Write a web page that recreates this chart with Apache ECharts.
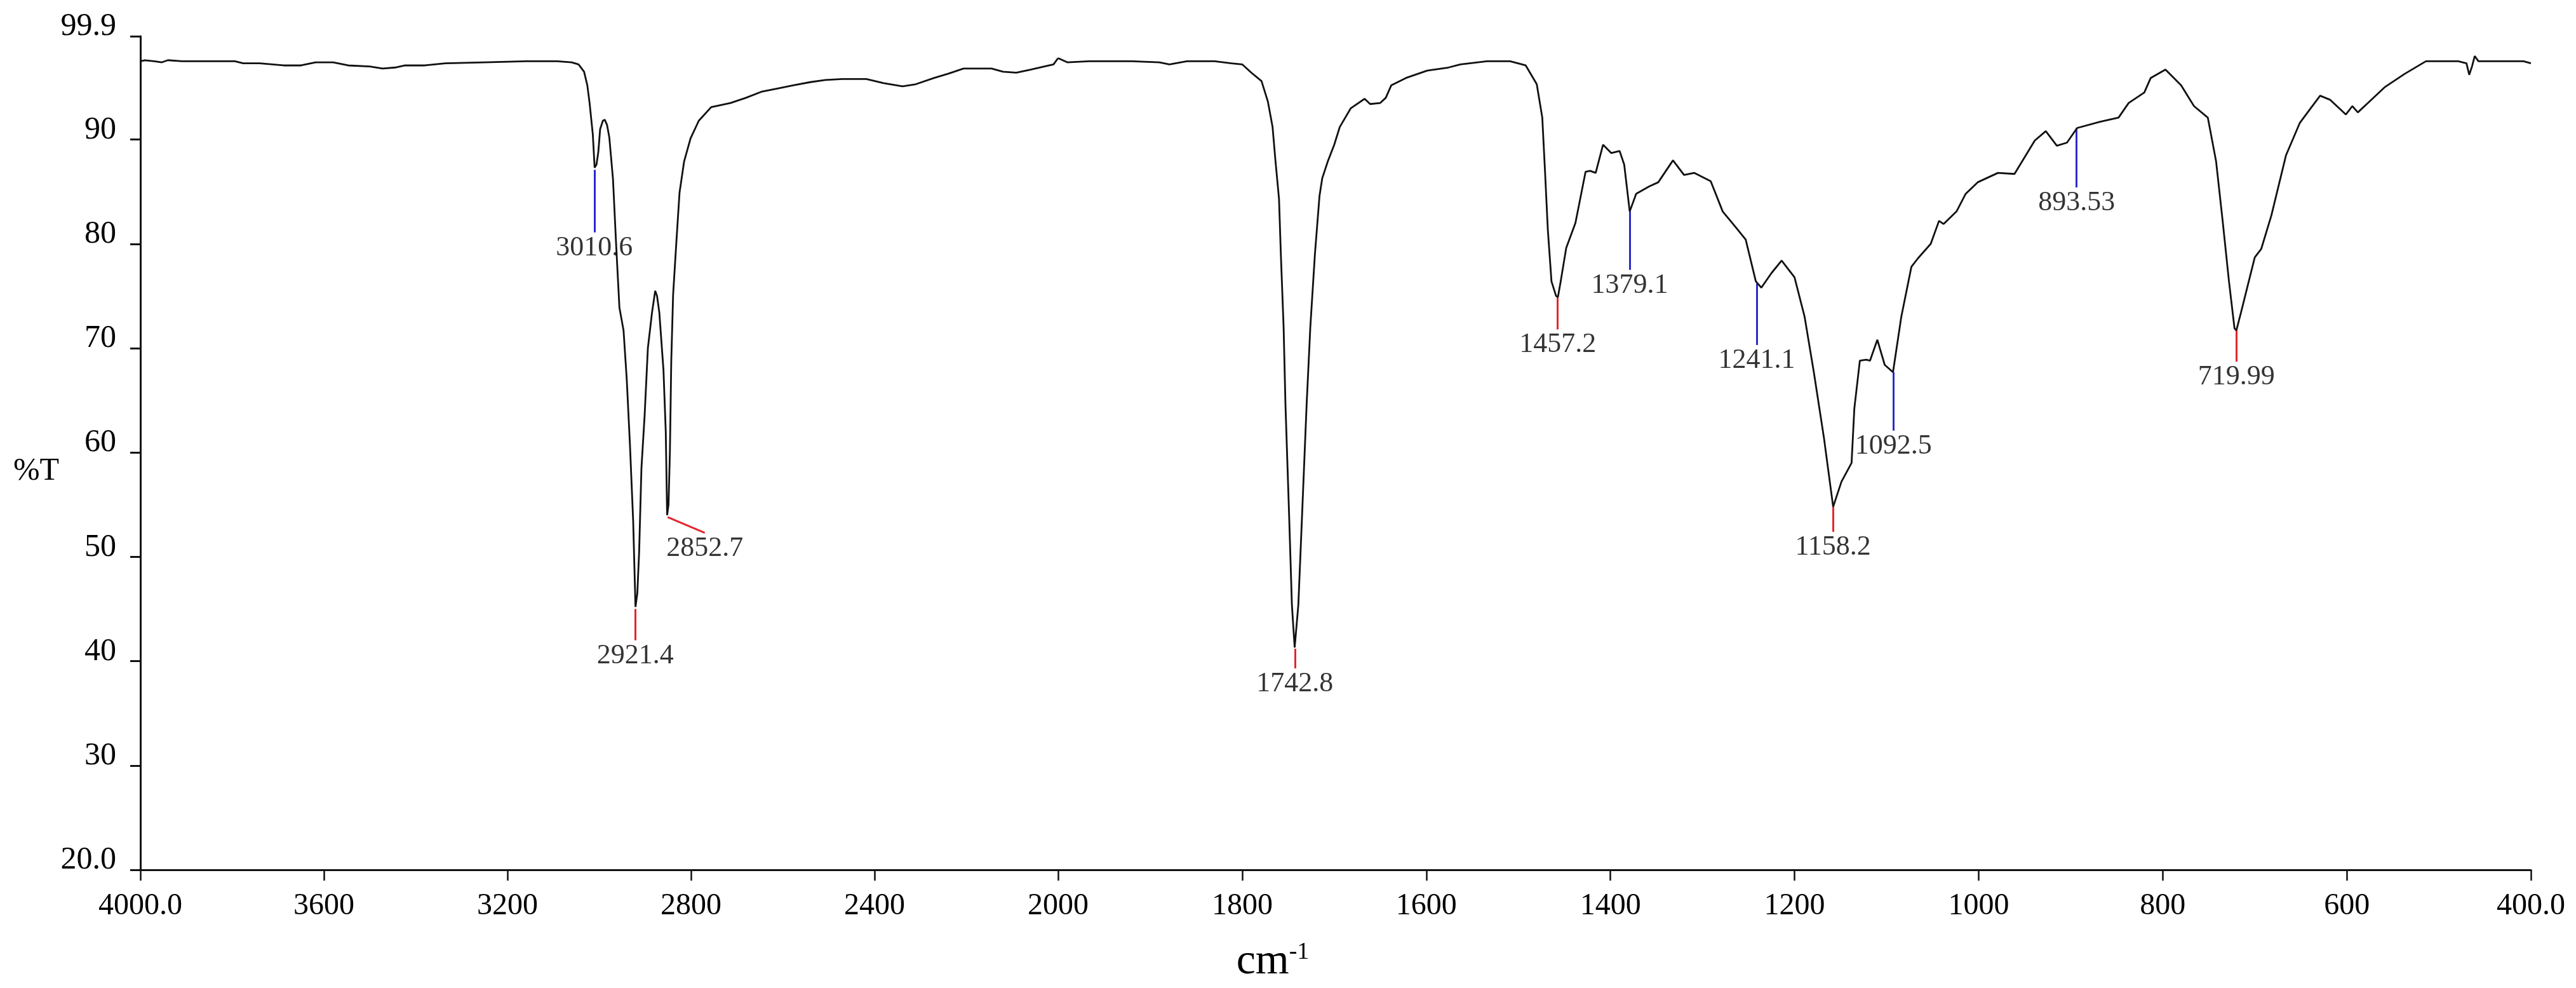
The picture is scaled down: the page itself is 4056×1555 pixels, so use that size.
<!DOCTYPE html>
<html>
<head>
<meta charset="utf-8">
<script src="https://cdn.jsdelivr.net/npm/echarts@6.0.0/dist/echarts.min.js"></script>
<style>
html,body{margin:0;padding:0;background:#ffffff;}
#chart{width:4056px;height:1555px;}
</style>
</head>
<body>
<div id="chart"></div>
<script>
// ---------- data ----------
// 4000 - 2000 cm-1 section
const wavenumbersHigh = [
  4000,3990,3970,3953,3940,3909,3850,3794,3776,3740,3688,3650,3618,3580,3547,3500,3472,3445,3423,3380,
  3335,3250,3159,3092,3060,3045,3033,3026,3021,3014,3010,3006,3002,2998,2992,2988,2983,2978,2970,2963,
  2956,2947,2940,2933,2926,2921,2917,2913,2908,2901,2894,2885,2878,2874,2869,2860,2855,2852,2849,2846,
  2843,2839,2832,2825,2815,2801,2783,2756,2714,2680,2645,2610,2576,2540,2507,2470,2418,2380,2339,2310,
  2270,2240,2206,2145,2120,2091,2060,2030,2010,2000
];
const transmittanceHigh = [
  97.5,97.6,97.5,97.4,97.6,97.5,97.5,97.5,97.3,97.3,97.1,97.1,97.4,97.4,97.1,97.0,96.8,96.9,97.1,97.1,
  97.3,97.4,97.5,97.5,97.4,97.2,96.5,95.2,93.5,90.5,87.3,87.6,88.8,91.0,91.8,91.9,91.4,90.2,86.2,79.8,
  73.9,71.7,67.0,60.7,53.4,45.2,46.5,50.5,58.5,63.6,70.0,73.4,75.5,75.0,73.4,67.9,62.0,54.0,55.0,60.0,
  68.8,75.1,80.1,84.9,87.9,90.1,91.8,93.1,93.5,94.0,94.6,94.9,95.2,95.5,95.7,95.8,95.8,95.4,95.1,95.3,
  95.9,96.3,96.8,96.8,96.5,96.4,96.7,97.0,97.2,97.8
];
// 2000 - 400 cm-1 section
const wavenumbersLow = [
  2000,1990,1966,1920,1890,1879,1860,1830,1812,1800,
  1790,1779,1772,1767,1764,1760,1758,1755,1753,1749,
  1746,1743,1739,1735,1730,1726,1721,1716,1713,1707,
  1700,1694,1682,1667,1661,1650,1644,1638,1622,1599,
  1576,1563,1534,1509,1492,1480,1474,1471,1468,1464,
  1459,1457,1454,1448,1438,1427,1422,1416,1408,1399,
  1390,1385,1379,1372,1358,1348,1332,1320,1309,1291,
  1278,1263,1253,1242,1236,1225,1214,1200,1189,1179,
  1168,1158,1149,1138,1135,1129,1122,1118,1110,1102,
  1093,1084,1073,1066,1052,1043,1038,1024,1014,1001,
  979,961,939,927,915,904,893,868,848,837,
  820,813,797,780,766,751,742,735,728,722,
  720,715,700,693,682,666,651,640,629,618,
  601,594,588,577,559,537,514,479,470,467,
  464,461,457,452,408,400
];
const transmittanceLow = [
  97.8,97.4,97.5,97.5,97.4,97.2,97.5,97.5,97.3,97.2,
  96.4,95.6,93.6,91.2,88.1,84.3,79.0,72.0,64.6,53.9,
  45.4,41.3,45.4,53.9,64.6,72.0,79.0,84.6,86.3,87.9,
  89.5,91.2,93.0,93.9,93.4,93.5,94.0,95.2,95.9,96.6,
  96.9,97.2,97.5,97.5,97.1,95.3,92.1,86.9,81.4,76.4,
  75.0,74.9,76.4,79.6,82.0,86.9,87.0,86.8,89.5,88.7,
  88.9,87.6,83.1,84.8,85.5,85.9,88.0,86.6,86.8,86.0,
  83.1,81.5,80.4,76.4,75.8,77.2,78.4,76.8,73.0,67.7,
  61.4,54.8,57.2,59.0,64.2,68.8,68.9,68.8,70.8,68.4,
  67.7,73.0,77.8,78.6,80.0,82.2,81.9,83.1,84.8,85.9,
  86.8,86.7,89.9,90.8,89.4,89.7,91.1,91.7,92.1,93.5,
  94.5,95.9,96.7,95.2,93.2,92.1,87.9,82.3,76.4,71.9,
  71.7,73.4,78.7,79.5,82.7,88.5,91.6,92.9,94.2,93.8,
  92.4,93.2,92.6,93.5,95.0,96.3,97.5,97.5,97.3,96.2,
  97.0,98.0,97.5,97.5,97.5,97.3
];

// annotated peaks
const peakLabels       = ['3010.6','2921.4','2852.7','1742.8','1457.2','1379.1','1241.1','1158.2','1092.5','893.53','719.99'];
const peakWavenumbers  = [3010.6, 2921.4, 2851, 1742.8, 1457.2, 1379.1, 1241.1, 1158.2, 1092.5, 893.53, 719.99];
const peakLineEnd      = [3010.6, 2921.4, 2770, 1742.8, 1457.2, 1379.1, 1241.1, 1158.2, 1092.5, 893.53, 719.99];
const peakLineTop      = [87.1, 45.0, 53.8, 41.2, 75.0, 83.1, 76.2, 54.8, 67.7, 91.1, 71.9];
const peakLineBottom   = [81.1, 42.0, 52.3, 39.3, 71.8, 77.5, 70.3, 52.4, 62.1, 85.4, 68.7];
const peakKinds        = ['weak','strong','strong','strong','strong','weak','weak','strong','weak','weak','strong'];

// axes
const yMin = 20, yMax = 99.9, yStep = 10;
const xHighMin = 2000, xHighMax = 4000, xHighStep = 400;
const xLowMin = 400, xLowMax = 2000, xLowStep = 200;
const xTitle = 'cm', xTitleSup = '-1';
const yTitle = '%T';

// ---------- build ----------
const FONT = '"Liberation Serif","Times New Roman",serif';
const highData = wavenumbersHigh.map((w, i) => [w, transmittanceHigh[i]]);
const lowData = wavenumbersLow.map((w, i) => [w, transmittanceLow[i]]);

const kindColor = { weak: '#2b2bcc', strong: '#e3262b' };
const linesH = [], linesL = [], labH = [], labL = [];
peakWavenumbers.forEach((w, i) => {
  const line = {
    coords: [[w, peakLineTop[i]], [peakLineEnd[i], peakLineBottom[i]]],
    lineStyle: { color: kindColor[peakKinds[i]] }
  };
  const lab = { name: peakLabels[i], value: [peakLineEnd[i], peakLineBottom[i]] };
  if (w > xHighMin) { linesH.push(line); labH.push(lab); }
  else { linesL.push(line); labL.push(lab); }
});

const axisLineStyle = { color: '#111', width: 3 };
const peakLabelStyle = {
  show: true, position: 'bottom', distance: 2,
  formatter: p => p.name,
  fontFamily: FONT, fontSize: 44, lineHeight: 44, color: '#000'
};
const xLabelBase = { margin: 33, fontFamily: FONT, fontSize: 48, lineHeight: 48, color: '#000',
  showMinLabel: true, showMaxLabel: true };

const chart = echarts.init(document.getElementById('chart'), null, { renderer: 'canvas' });
chart.setOption({
  animation: false,
  backgroundColor: '#ffffff',
  grid: [
    { left: 221, top: 57, width: 1445, height: 1312 },
    { left: 1666, top: 57, width: 2319, height: 1312 }
  ],
  xAxis: [
    {
      gridIndex: 0, type: 'value', inverse: true,
      min: xHighMin, max: xHighMax, interval: xHighStep,
      axisLine: { show: true, lineStyle: axisLineStyle },
      axisTick: { show: true, length: 17, lineStyle: { color: '#111', width: 2.5 } },
      splitLine: { show: false },
      axisLabel: Object.assign({}, xLabelBase, {
        formatter: v => v === xHighMax ? v.toFixed(1) : (v === xHighMin ? '' : String(v))
      })
    },
    {
      gridIndex: 1, type: 'value', inverse: true,
      min: xLowMin, max: xLowMax, interval: xLowStep,
      axisLine: { show: true, lineStyle: axisLineStyle },
      axisTick: { show: true, length: 17, lineStyle: { color: '#111', width: 2.5 } },
      splitLine: { show: false },
      axisLabel: Object.assign({}, xLabelBase, {
        formatter: v => v === xLowMin ? v.toFixed(1) : String(v)
      })
    }
  ],
  yAxis: [
    {
      gridIndex: 0, type: 'value', min: yMin, max: yMax, interval: yStep,
      axisLine: { show: true, lineStyle: axisLineStyle },
      axisTick: { show: true, length: 16, lineStyle: { color: '#111', width: 3 } },
      splitLine: { show: false },
      axisLabel: {
        margin: 38, fontFamily: FONT, fontSize: 50, lineHeight: 30, color: '#000',
        verticalAlign: 'bottom', showMinLabel: true, showMaxLabel: true,
        formatter: v => (v === yMin || !Number.isInteger(v)) ? v.toFixed(1) : String(v)
      }
    },
    { gridIndex: 1, type: 'value', min: yMin, max: yMax, interval: yStep, show: false }
  ],
  graphic: [
    {
      type: 'text', x: 57, y: 742, silent: true,
      style: { text: yTitle, font: '50px ' + FONT, fill: '#000', align: 'center', verticalAlign: 'middle' }
    },
    {
      type: 'text', x: 2004, y: 1480, silent: true,
      style: {
        text: '{a|' + xTitle + '}{b|' + xTitleSup + '}',
        align: 'center', verticalAlign: 'top', fill: '#000',
        rich: {
          a: { fontFamily: FONT, fontSize: 68, lineHeight: 68, fill: '#000' },
          b: { fontFamily: FONT, fontSize: 38, lineHeight: 38, fill: '#000', verticalAlign: 'top' }
        }
      }
    }
  ],
  series: [
    {
      type: 'lines', coordinateSystem: 'cartesian2d', xAxisIndex: 0, yAxisIndex: 0,
      lineStyle: { width: 3, opacity: 1, curveness: 0 }, data: linesH, z: 3
    },
    {
      type: 'lines', coordinateSystem: 'cartesian2d', xAxisIndex: 1, yAxisIndex: 1,
      lineStyle: { width: 3, opacity: 1, curveness: 0 }, data: linesL, z: 3
    },
    {
      type: 'line', xAxisIndex: 0, yAxisIndex: 0, data: highData,
      showSymbol: false, symbol: 'none', smooth: false,
      lineStyle: { color: '#111', width: 2.8 }, z: 4
    },
    {
      type: 'line', xAxisIndex: 1, yAxisIndex: 1, data: lowData,
      showSymbol: false, symbol: 'none', smooth: false,
      lineStyle: { color: '#111', width: 2.8 }, z: 4
    },
    {
      type: 'scatter', xAxisIndex: 0, yAxisIndex: 0, data: labH,
      symbolSize: 1, itemStyle: { color: 'rgba(0,0,0,0)' }, label: peakLabelStyle, z: 5
    },
    {
      type: 'scatter', xAxisIndex: 1, yAxisIndex: 1, data: labL,
      symbolSize: 1, itemStyle: { color: 'rgba(0,0,0,0)' }, label: peakLabelStyle, z: 5
    }
  ]
});
</script>
</body>
</html>
